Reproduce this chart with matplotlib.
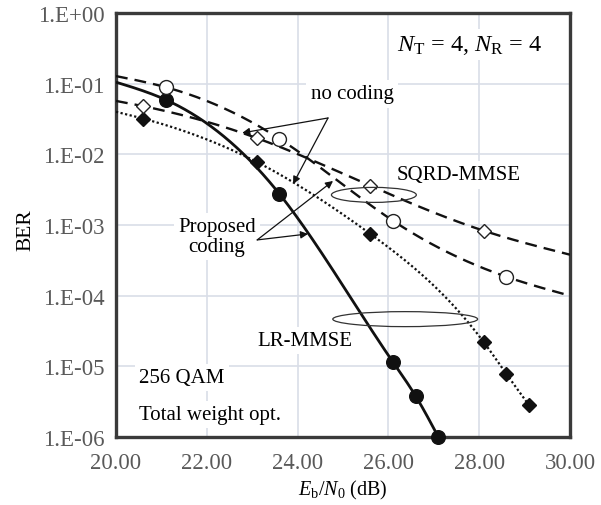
import numpy as np
import matplotlib
matplotlib.use("Agg")
import matplotlib.pyplot as plt
from matplotlib.patches import Ellipse

plt.rcParams['font.family'] = ['Liberation Serif', 'DejaVu Serif']
plt.rcParams['mathtext.fontset'] = 'custom'
plt.rcParams['mathtext.rm'] = 'Liberation Serif'
plt.rcParams['mathtext.it'] = 'Liberation Serif:italic'

# ---------------- data ----------------
# Proposed coding, LR-MMSE (filled circles, solid)
lr_coded_x = [21.1, 23.6, 26.1, 26.6, 27.1]
lr_coded_y = [0.059, 2.75e-3, 1.15e-5, 3.8e-6, 1.0e-6]
lr_coded_line_x = [20.0, 21.1, 23.6, 26.1, 26.6, 27.1]
lr_coded_line_y = [0.105, 0.059, 2.75e-3, 1.15e-5, 3.8e-6, 1.0e-6]

# Proposed coding, SQRD-MMSE (filled diamonds, dotted)
sq_coded_x = [20.6, 23.1, 25.6, 28.1, 28.6, 29.1]
sq_coded_y = [0.032, 7.8e-3, 7.5e-4, 2.2e-5, 7.8e-6, 2.8e-6]
sq_coded_line_x = [20.0, 20.6, 23.1, 25.6, 28.1, 28.6, 29.1]
sq_coded_line_y = [0.040, 0.032, 7.8e-3, 7.5e-4, 2.2e-5, 7.8e-6, 2.8e-6]

# no coding, SQRD-MMSE (open diamonds, dashed)
sq_unc_x = [20.6, 23.1, 25.6, 28.1]
sq_unc_y = [0.048, 0.017, 3.6e-3, 8.3e-4]
sq_unc_line_x = [20.0, 20.6, 23.1, 25.6, 28.1, 30.0]
sq_unc_line_y = [0.057, 0.048, 0.017, 3.6e-3, 8.3e-4, 3.8e-4]

# no coding, LR-MMSE (open circles, dashed)
lr_unc_x = [21.1, 23.6, 26.1, 28.6]
lr_unc_y = [0.089, 0.0166, 1.15e-3, 1.85e-4]
lr_unc_line_x = [20.0, 21.1, 23.6, 26.1, 28.6, 30.0]
lr_unc_line_y = [0.128, 0.089, 0.0166, 1.15e-3, 1.85e-4, 1.0e-4]

x_ticks = [20, 22, 24, 26, 28, 30]
x_tick_labels = ["20.00", "22.00", "24.00", "26.00", "28.00", "30.00"]
y_ticks = [1e0, 1e-1, 1e-2, 1e-3, 1e-4, 1e-5, 1e-6]
y_tick_labels = ["1.E+00", "1.E-01", "1.E-02", "1.E-03", "1.E-04", "1.E-05", "1.E-06"]


def smooth(xp, yp, n=300):
    """Natural cubic spline through the given points in (x, log10 y)."""
    x = np.asarray(xp, float)
    y = np.log10(np.asarray(yp, float))
    m = len(x)
    h = np.diff(x)
    A = np.zeros((m, m))
    r = np.zeros(m)
    A[0, 0] = 1
    A[-1, -1] = 1
    for i in range(1, m - 1):
        A[i, i - 1] = h[i - 1]
        A[i, i] = 2 * (h[i - 1] + h[i])
        A[i, i + 1] = h[i]
        r[i] = 3 * ((y[i + 1] - y[i]) / h[i] - (y[i] - y[i - 1]) / h[i - 1])
    c = np.linalg.solve(A, r)
    b = (y[1:] - y[:-1]) / h - h * (2 * c[:-1] + c[1:]) / 3
    d = (c[1:] - c[:-1]) / (3 * h)
    xs = np.linspace(x[0], x[-1], n)
    idx = np.clip(np.searchsorted(x, xs, side='right') - 1, 0, m - 2)
    dx = xs - x[idx]
    ys = y[idx] + b[idx] * dx + c[idx] * dx ** 2 + d[idx] * dx ** 3
    return xs, 10 ** ys


fig = plt.figure(figsize=(6.01, 5.06), dpi=100)
ax = fig.add_axes([116 / 601, 1 - 438 / 506, 454 / 601, 424 / 506])

ax.set_yscale('log')
ax.set_xlim(20, 30)
ax.set_ylim(1e-6, 1)

gc = '#d9dee8'
ax.grid(True, which='major', color=gc, linewidth=1.2, zorder=0)
ax.set_axisbelow(True)
ax.minorticks_off()
ax.set_xticks(x_ticks)
ax.set_xticklabels(x_tick_labels)
ax.set_yticks(y_ticks)
ax.set_yticklabels(y_tick_labels)
ax.tick_params(axis='y', length=0, colors='#595959', labelsize=16.5, pad=8)
ax.tick_params(axis='x', length=0, colors='#595959', labelsize=16.3, pad=11)
for s in ax.spines.values():
    s.set_linewidth(2.4)
    s.set_color('#3a3a3a')

lw = 1.7
# lines
xs, ys = smooth(lr_coded_line_x, lr_coded_line_y)
ax.plot(xs, ys, color='#111111', lw=2.0, zorder=4, solid_capstyle='butt')
xs, ys = smooth(sq_coded_line_x, sq_coded_line_y)
ax.plot(xs, ys, color='#111111', lw=1.6, zorder=4, dashes=(1, 1.1))
xs, ys = smooth(sq_unc_line_x, sq_unc_line_y)
ax.plot(xs, ys, color='#111111', lw=lw, zorder=4, dashes=(5, 3))
xs, ys = smooth(lr_unc_line_x, lr_unc_line_y)
ax.plot(xs, ys, color='#111111', lw=lw, zorder=4, dashes=(5, 3))

# markers
ax.plot(lr_coded_x, lr_coded_y, 'o', ms=9.8, color='#111111', zorder=5, clip_on=False)
ax.plot(sq_coded_x, sq_coded_y, 'D', ms=7.2, color='#111111', zorder=5, clip_on=False)
ax.plot(sq_unc_x, sq_unc_y, 'D', ms=7.4, mfc='white', mec='#222222', mew=1.0, zorder=5)
ax.plot(lr_unc_x, lr_unc_y, 'o', ms=10, mfc='white', mec='#222222', mew=1.0, zorder=5)

# texts
tfs = 15
box = dict(facecolor='white', edgecolor='none', pad=3)
ax.text(27.78, 0.36, r'$N_{\mathrm{T}}$ = 4, $N_{\mathrm{R}}$ = 4', fontsize=17.5,
        ha='center', va='center', bbox=box, zorder=3)
ax.text(25.2, 0.0715, 'no coding', fontsize=tfs, ha='center', va='center', bbox=box, zorder=3)
ax.text(27.55, 5.1e-3, 'SQRD-MMSE', fontsize=tfs, ha='center', va='center', bbox=box, zorder=3)
ax.text(22.22, 6.9e-4, 'Proposed\ncoding', fontsize=tfs, ha='center', va='center',
        linespacing=1.05, bbox=box, zorder=3)
ax.text(24.16, 2.3e-5, 'LR-MMSE', fontsize=tfs, ha='center', va='center', bbox=box, zorder=3)
ax.text(20.51, 6.9e-6, '256 QAM', fontsize=tfs, ha='left', va='center', bbox=box, zorder=3)
ax.text(20.51, 2.1e-6, 'Total weight opt.', fontsize=tfs, ha='left', va='center', bbox=box, zorder=3)

# arrows
ap = dict(arrowstyle='-|>', color='#111111', lw=0.9, mutation_scale=11, shrinkA=0, shrinkB=0)
ax.annotate('', xy=(22.78, 0.0201), xytext=(24.67, 0.0327), arrowprops=ap, zorder=6)
ax.annotate('', xy=(23.90, 0.00381), xytext=(24.67, 0.0327), arrowprops=ap, zorder=6)
ax.annotate('', xy=(24.78, 4.2e-3), xytext=(23.11, 6.15e-4), arrowprops=ap, zorder=6)
ax.annotate('', xy=(24.23, 7.48e-4), xytext=(23.11, 6.15e-4), arrowprops=ap, zorder=6)

# ellipses (axes fraction)
ax.add_patch(Ellipse((0.568, 0.571), 0.187, 0.0354, transform=ax.transAxes,
                     fill=False, edgecolor='#333333', lw=0.9, zorder=6))
ax.add_patch(Ellipse((0.637, 0.278), 0.319, 0.0354, transform=ax.transAxes,
                     fill=False, edgecolor='#333333', lw=0.9, zorder=6))

ax.set_ylabel('BER', fontsize=15.5)
ax.set_xlabel(r'$E_{\mathrm{b}}/N_{0}$ (dB)', fontsize=14.5)
ax.yaxis.set_label_coords(-0.177, 0.49)
ax.xaxis.set_label_coords(0.5, -0.097)

fig.savefig('out.png', dpi=100)
